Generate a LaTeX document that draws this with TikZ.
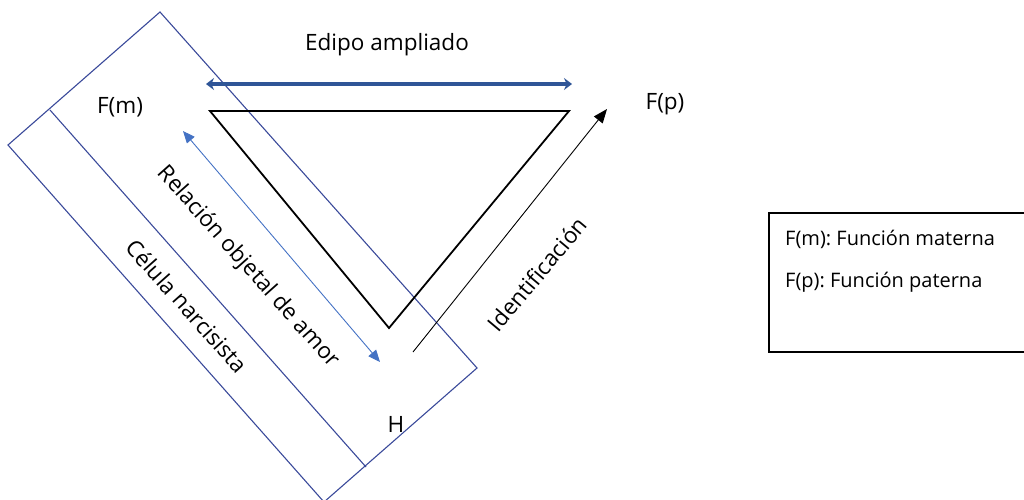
\documentclass[tikz,border=0pt]{standalone}
\usepackage{fontspec}
\setmainfont{Open Sans}
\frenchspacing
\usetikzlibrary{arrows.meta}
\definecolor{cellblue}{HTML}{3A4A9A}
\definecolor{thickblue}{HTML}{2F5597}
\definecolor{lightblue}{HTML}{4472C4}
\tikzset{
  lbl/.style={font=\fontsize{22.5}{26}\selectfont, inner sep=0pt},
  legtxt/.style={font=\fontsize{20}{24}\selectfont, inner sep=0pt, anchor=west},
  cell/.style={draw=cellblue, line width=1.1pt},
  tri/.style={draw=black, line width=1.8pt, line join=miter},
  edipo/.style={draw=thickblue, line width=3.8pt, {Stealth[length=8pt,width=12pt]}-{Stealth[length=8pt,width=12pt]}},
  relarrow/.style={draw=lightblue, line width=0.9pt, {Triangle[length=12pt,width=10pt]}-{Triangle[length=12pt,width=10pt]}},
  idarrow/.style={draw=black, line width=0.9pt, -{Triangle[length=14pt,width=11pt]}},
}
\begin{document}
\begin{tikzpicture}[x=1pt,y=-1pt]
\path[use as bounding box] (0,0) rectangle (1024,499);
\clip (0,0) rectangle (1024,499);
% narcissistic cell
\coordinate (cT) at (160,12);
\coordinate (cR) at (477,368);
\coordinate (cB) at (324,502);
\coordinate (cL) at (8,145);
\coordinate (dA) at (50,110);
\coordinate (dB) at (366,467);
\draw[cell] (cT) -- (cR) -- (cB) -- (cL) -- cycle;
\draw[cell] (dA) -- (dB);
% triangle
\coordinate (tL) at (210,111);
\coordinate (tR) at (569,111);
\coordinate (tB) at (389,328);
\draw[tri] (tL) -- (tR) -- (tB) -- cycle;
% labels
\node[lbl] (edipo) at (387,45) {Edipo ampliado};
\node[lbl] (fm) at (120,107) {F(m)};
\node[lbl] (fp) at (665,104) {F(p)};
\node[lbl] (h) at (396,424) {H};
\node[lbl, rotate=-48.3] (rel) at (248,267) {Relación objetal de amor};
\node[lbl, rotate=-48.3] (cel) at (187,306) {Célula narcisista};
\node[lbl, rotate=50] (ident) at (537,274) {Identificación};
% arrows
\coordinate (eL) at (206,84);
\coordinate (eR) at (572,84);
\draw[edipo] (eL) -- (eR);
\coordinate (rT) at (183,131);
\coordinate (rB) at (380,362);
\draw[relarrow] (rT) -- (rB);
\coordinate (iS) at (413,352);
\coordinate (iE) at (607,109);
\draw[idarrow] (iS) -- (iE);
% legend
\node[draw=black, line width=1.5pt, minimum width=270pt, minimum height=139pt, anchor=north west, inner sep=0pt] (legend) at (768,212) {};
\node[legtxt] (lm) at (785,239) {F(m): Función materna};
\node[legtxt] (lp) at (785,282) {F(p): Función paterna};
\end{tikzpicture}
\end{document}
